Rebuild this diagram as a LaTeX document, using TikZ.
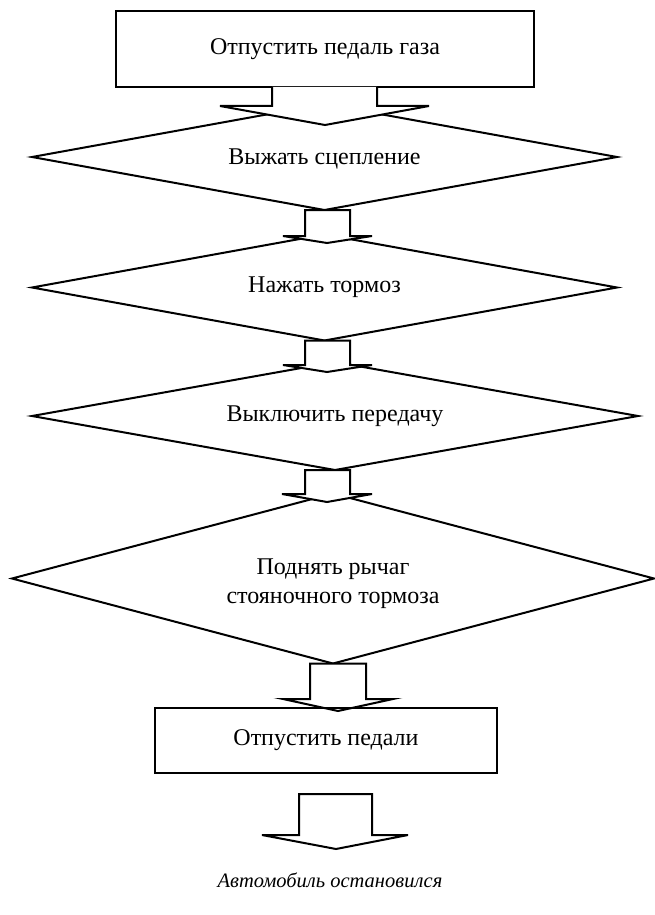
\documentclass[tikz,border=0pt]{standalone}
\usepackage{fontspec}
\setmainfont{Liberation Serif}
\usetikzlibrary{shapes.geometric}
\begin{document}
\begin{tikzpicture}[x=1pt,y=-1pt,
  line width=2pt, line join=miter,
  every node/.style={font=\fontsize{24}{29}\selectfont, inner sep=0pt, outer sep=0pt, align=center},
  procbox/.style={draw, rectangle},
  decision/.style={draw, diamond},
  blockarrow/.style={draw, fill=white}]
\useasboundingbox (0,0) rectangle (655,915);
% diamonds
\node[decision, minimum width=585pt, minimum height=106pt] (d1) at (324.5,157) {};
\node at ([yshift=-2pt]d1.center) (t1) {Выжать сцепление};
\node[decision, minimum width=585pt, minimum height=106pt] (d2) at (324.5,287.5) {};
\node at (d2.center) (t2) {Нажать тормоз};
\node[decision, minimum width=606pt, minimum height=108pt] (d3) at (335,416) {};
\node at (d3.center) (t3) {Выключить передачу};
\node[decision, minimum width=642pt, minimum height=170pt] (d4) at (333,578.5) {};
\node at ([yshift=-5pt]d4.center) (t4) {Поднять рычаг\\стояночного тормоза};
% boxes
\node[procbox, minimum width=418pt, minimum height=76pt] (b1) at (325,49) {Отпустить педаль газа};
% block arrows
\fill[white] (272,87) -- (272,106) -- (220,106) -- (325,125) -- (429,106) -- (377,106) -- (377,87) -- cycle;
\draw (272,87) -- (272,106) -- (220,106) -- (325,125) -- (429,106) -- (377,106) -- (377,87);
\draw[blockarrow] (d1.south -| 305,0) -- (305,236) -- (283,236) -- (327,243) -- (372,236) -- (350,236) -- (d1.south -| 350,0) -- cycle;
\draw[blockarrow] (d2.south -| 305,0) -- (305,365) -- (283,365) -- (327,372) -- (372,365) -- (350,365) -- (d2.south -| 350,0) -- cycle;
\draw[blockarrow] (d3.south -| 305,0) -- (305,494) -- (282,494) -- (327,502) -- (372,494) -- (350,494) -- (d3.south -| 350,0) -- cycle;
\draw[blockarrow] (d4.south -| 310,0) -- (310,699) -- (283,699) -- (338,711) -- (393,699) -- (366,699) -- (d4.south -| 366,0) -- cycle;
\node[procbox, minimum width=342pt, minimum height=65pt] (b2) at (326,740.5) {Отпустить педали};
\draw[blockarrow] (299,794) -- (299,835) -- (262,835) -- (336,849) -- (408,835) -- (372,835) -- (372,794) -- cycle;
\node[font=\fontsize{20.5}{25}\selectfont\itshape] (end) at (330,880) {Автомобиль остановился};
\end{tikzpicture}
\end{document}
